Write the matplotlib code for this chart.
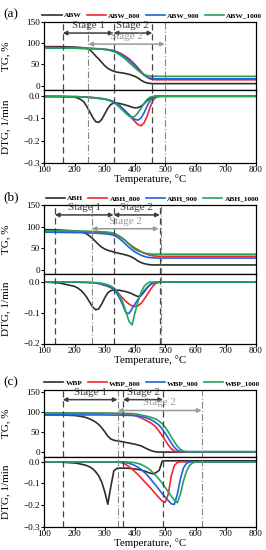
import matplotlib.pyplot as plt

plt.rcParams['font.family'] = ['Liberation Serif', 'DejaVu Serif']
plt.rcParams['axes.linewidth'] = 0.9

# temperature grid (°C) used for panels (a) and (b)
temp_ab = [100, 150, 200, 210, 220, 230, 240, 250, 260, 270,
           280, 290, 300, 310, 320, 330, 340, 350, 360, 370,
           380, 390, 400, 410, 420, 430, 440, 450, 460, 470,
           480, 490, 500, 550, 600, 700, 800]

# ---- panel (a) ----
abw_tg = [92, 92, 91, 90.5, 90, 89, 88, 85, 78, 70,
          63, 55, 47, 41, 37, 34, 32, 31, 30, 28.5,
          27, 24.5, 22, 18, 13, 9, 6.5, 5.5, 5, 5,
          5, 5, 5, 5, 5, 5, 5]
abw800_tg = [90, 89.5, 89, 88.8, 88.6, 88.4, 88.2, 88, 87.7, 87.4,
             87, 86.5, 86, 85, 84, 82.5, 80, 77, 73, 68.5,
             63.5, 57, 50, 42, 34, 26, 20, 16, 14.5, 14,
             14, 14, 14, 14, 14, 14, 14]
abw900_tg = [89, 88.7, 88.4, 88.2, 88, 87.8, 87.6, 87.4, 87.2, 87,
             86.6, 86.2, 85.6, 84.8, 83.6, 81.8, 79, 75.5, 71, 66,
             60, 53.5, 46.5, 39, 31, 25, 20.5, 18, 17, 16.5,
             16.5, 16.5, 16.5, 16.5, 16.5, 16.5, 16.5]
abw1000_tg = [89, 88.7, 88.4, 88.2, 88, 87.8, 87.6, 87.4, 87.2, 87,
              86.6, 86, 85.2, 84, 82.3, 80, 76.8, 72.5, 67.5, 61.5,
              55, 48.5, 42, 36, 30.5, 26.5, 24, 23, 22.5, 22.3,
              22.2, 22.2, 22.2, 22.2, 22.2, 22.2, 22.2]
abw_dtg = [-0.002, -0.002, -0.005, -0.009, -0.015, -0.025, -0.045, -0.07, -0.095, -0.115,
           -0.118, -0.105, -0.08, -0.055, -0.038, -0.031, -0.031, -0.034, -0.037, -0.041,
           -0.045, -0.05, -0.053, -0.052, -0.046, -0.035, -0.021, -0.009, -0.003, -0.001,
           -0.001, -0.001, -0.001, -0.001, -0.001, -0.001, -0.001]
abw800_dtg = [-0.002, -0.002, -0.003, -0.003, -0.004, -0.004, -0.005, -0.006, -0.007, -0.008,
              -0.01, -0.012, -0.014, -0.017, -0.021, -0.027, -0.035, -0.045, -0.057, -0.07,
              -0.085, -0.1, -0.115, -0.128, -0.133, -0.12, -0.09, -0.05, -0.018, -0.005,
              -0.002, -0.001, -0.001, -0.001, -0.001, -0.001, -0.001]
abw900_dtg = [-0.002, -0.002, -0.003, -0.003, -0.004, -0.004, -0.005, -0.006, -0.007, -0.008,
              -0.01, -0.011, -0.013, -0.016, -0.02, -0.026, -0.034, -0.044, -0.056, -0.07,
              -0.083, -0.095, -0.105, -0.108, -0.098, -0.075, -0.045, -0.02, -0.006, -0.002,
              -0.001, -0.001, -0.001, -0.001, -0.001, -0.001, -0.001]
abw1000_dtg = [-0.002, -0.002, -0.003, -0.003, -0.004, -0.005, -0.006, -0.007, -0.008, -0.009,
               -0.011, -0.012, -0.014, -0.018, -0.023, -0.03, -0.04, -0.052, -0.065, -0.078,
               -0.09, -0.095, -0.09, -0.075, -0.055, -0.033, -0.015, -0.005, -0.002, -0.001,
               -0.001, -0.001, -0.001, -0.001, -0.001, -0.001, -0.001]

# ---- panel (b) ----
abh_tg = [93, 92, 90, 89, 88, 86, 83, 78, 72, 65,
          58, 52, 48, 45, 43, 41, 39, 37.5, 36, 34,
          32, 29, 25, 20, 16.5, 14, 12.5, 11.5, 11, 11,
          11, 11, 11, 11, 11, 11, 11]
abh800_tg = [90, 89.5, 89, 88.9, 88.8, 88.6, 88.4, 88.2, 88, 87.7,
             87.3, 86.8, 86.2, 85.5, 84.5, 83, 80, 76, 71.5, 66,
             60, 55, 50, 46, 42, 38.5, 35.5, 33.5, 32, 31.5,
             31, 31, 31, 31, 31, 31, 31]
abh900_tg = [87, 86.5, 86, 85.9, 85.8, 85.6, 85.4, 85.2, 85, 84.7,
             84.3, 83.8, 83.2, 82.5, 81.5, 79.5, 76, 71, 65, 58.5,
             52, 46, 41, 37, 33.5, 31, 29, 28, 27.5, 27,
             27, 27, 27, 27, 27, 27, 27]
abh1000_tg = [90, 90, 89.5, 89.4, 89.3, 89.2, 89, 88.8, 88.6, 88.4,
              88.2, 87.9, 87.5, 87, 86, 84.5, 81.5, 77.5, 72.5, 66.5,
              59.5, 52.5, 47, 43.5, 41, 39, 37.5, 36.5, 36, 36,
              36, 36, 36, 36, 36, 36, 36]
abh_dtg = [-0.001, -0.004, -0.015, -0.02, -0.027, -0.037, -0.05, -0.066, -0.082, -0.091,
           -0.088, -0.072, -0.052, -0.036, -0.029, -0.027, -0.027, -0.028, -0.03, -0.032,
           -0.035, -0.039, -0.044, -0.048, -0.045, -0.033, -0.019, -0.009, -0.004, -0.002,
           -0.001, -0.001, -0.001, -0.001, -0.001, -0.001, -0.001]
abh800_dtg = [-0.001, -0.001, -0.001, -0.001, -0.002, -0.002, -0.002, -0.003, -0.003, -0.004,
              -0.006, -0.009, -0.012, -0.015, -0.019, -0.025, -0.033, -0.043, -0.054, -0.064,
              -0.072, -0.078, -0.08, -0.078, -0.07, -0.057, -0.042, -0.027, -0.013, -0.005,
              -0.002, -0.001, -0.001, -0.001, -0.001, -0.001, -0.001]
abh900_dtg = [-0.001, -0.001, -0.001, -0.001, -0.002, -0.002, -0.002, -0.003, -0.003, -0.004,
              -0.006, -0.008, -0.011, -0.014, -0.019, -0.026, -0.038, -0.055, -0.077, -0.1,
              -0.103, -0.088, -0.072, -0.057, -0.043, -0.03, -0.019, -0.01, -0.004, -0.001,
              -0.001, -0.001, -0.001, -0.001, -0.001, -0.001, -0.001]
abh1000_dtg = [-0.001, -0.001, -0.001, -0.001, -0.001, -0.002, -0.002, -0.002, -0.003, -0.003,
               -0.004, -0.005, -0.007, -0.01, -0.014, -0.02, -0.03, -0.045, -0.068, -0.098,
               -0.128, -0.14, -0.1, -0.063, -0.034, -0.015, -0.005, -0.001, -0.001, -0.001,
               -0.001, -0.001, -0.001, -0.001, -0.001, -0.001, -0.001]

# ---- panel (c) ----
temp_c = [100, 150, 200, 210, 220, 230, 240, 250, 260, 270,
          280, 290, 300, 310, 320, 330, 340, 350, 360, 370,
          380, 390, 400, 410, 420, 430, 440, 450, 460, 470,
          480, 490, 500, 510, 520, 530, 540, 550, 560, 570,
          580, 590, 600, 610, 620, 700, 800]
wbp_tg = [93, 93, 91.5, 90.5, 89.5, 88, 86, 83, 79.5, 75,
          69, 61, 51, 40, 33, 30, 28.5, 27.3, 26, 24.5,
          23, 21.5, 20, 18, 16, 12, 8.5, 5, 2.5, 1,
          0.5, 0.5, 0.5, 0.5, 0.5, 0.5, 0.5, 0.5, 0.5, 0.5,
          0.5, 0.5, 0.5, 0.5, 0.5, 0.5, 0.5]
wbp800_tg = [98, 97.8, 97.5, 97.5, 97.4, 97.4, 97.3, 97.3, 97.2, 97.2,
             97.1, 97, 97, 96.9, 96.8, 96.7, 96.5, 96.3, 96, 95.5,
             94.5, 93, 91, 88.5, 85.5, 82, 78, 74, 69, 62,
             52, 41, 30, 18, 9, 3, 1.5, 1, 1, 1,
             1, 1, 1, 1, 1, 1, 1]
wbp900_tg = [93, 93, 93, 93, 93, 93, 93, 93, 93, 93,
             93, 93, 92.9, 92.8, 92.7, 92.6, 92.5, 92.4, 92.2, 92,
             91.8, 91.6, 91.3, 90.5, 89, 87.5, 85, 82, 78, 73,
             67, 58, 47, 35, 23, 12, 5, 2, 1.5, 1.5,
             1.5, 1.5, 1.5, 1.5, 1.5, 1.5, 1.5]
wbp1000_tg = [98, 98, 97.8, 97.8, 97.7, 97.7, 97.6, 97.6, 97.5, 97.5,
              97.4, 97.4, 97.3, 97.2, 97.1, 97, 96.9, 96.8, 96.7, 96.6,
              96.4, 96.2, 95.8, 94.5, 92.5, 91, 89.5, 87.5, 85, 82,
              77.5, 71, 62, 51, 38, 26, 15, 7, 3, 1.5,
              1.5, 1.5, 1.5, 1.5, 1.5, 1.5, 1.5]
wbp_dtg = [-0.001, -0.002, -0.006, -0.008, -0.011, -0.014, -0.018, -0.024, -0.033, -0.047,
           -0.066, -0.095, -0.14, -0.197, -0.115, -0.042, -0.031, -0.03, -0.03, -0.03,
           -0.031, -0.032, -0.034, -0.036, -0.039, -0.043, -0.048, -0.053, -0.057, -0.05,
           -0.04, 0.003, 0.004, 0.004, 0.004, 0.004, 0.004, 0.004, 0.004, 0.004,
           0.004, 0.004, 0.004, 0.004, 0.004, 0.004, 0.004]
wbp800_dtg = [-0.001, -0.001, -0.001, -0.001, -0.001, -0.001, -0.001, -0.001, -0.001, -0.001,
              -0.001, -0.001, -0.001, -0.001, -0.001, -0.002, -0.002, -0.003, -0.007, -0.014,
              -0.023, -0.034, -0.047, -0.06, -0.075, -0.09, -0.105, -0.12, -0.136, -0.152,
              -0.168, -0.182, -0.188, -0.15, -0.065, -0.018, -0.004, -0.001, -0.001, -0.001,
              -0.001, -0.001, -0.001, -0.001, -0.001, -0.001, -0.001]
wbp900_dtg = [-0.001, -0.001, -0.001, -0.001, -0.001, -0.001, -0.001, -0.001, -0.001, -0.001,
              -0.001, -0.001, -0.001, -0.001, -0.001, -0.001, -0.001, -0.002, -0.003, -0.005,
              -0.008, -0.012, -0.018, -0.026, -0.036, -0.048, -0.062, -0.078, -0.095, -0.112,
              -0.13, -0.148, -0.165, -0.18, -0.195, -0.198, -0.15, -0.08, -0.03, -0.008,
              -0.002, -0.001, -0.001, -0.001, -0.001, -0.001, -0.001]
wbp1000_dtg = [-0.001, -0.001, -0.001, -0.001, -0.001, -0.001, -0.001, -0.001, -0.001, -0.001,
               -0.001, -0.001, -0.001, -0.001, -0.001, -0.001, -0.001, -0.001, -0.001, -0.001,
               -0.002, -0.003, -0.005, -0.008, -0.013, -0.02, -0.028, -0.038, -0.052, -0.066,
               -0.082, -0.1, -0.12, -0.14, -0.16, -0.178, -0.19, -0.15, -0.09, -0.045,
               -0.018, -0.006, -0.002, -0.001, -0.001, -0.001, -0.001]

# stage boundaries (°C)
dashed_a, dashdot_a = [161, 329, 457], [246, 498]
dashed_b, dashdot_b = [135, 329, 482], [257, 485]
dashed_c, dashdot_c = [161, 360, 493], [343, 620]
stages_a = [(161, 329, 'Stage 1'), (329, 457, 'Stage 2')]
stages_b = [(135, 329, 'Stage 1'), (329, 482, 'Stage 2')]
stages_c = [(161, 342, 'Stage 1'), (360, 493, 'Stage 2')]
light_a, light_b, light_c = (246, 498), (257, 478), (343, 620)

colors = ['#2e2e2e', '#f2262e', '#1f62dc', '#22a35e']
dark, light = '#3c3c3c', '#9a9a9a'

W, H = 266, 550
X0, X1 = 44.3, 256
fig = plt.figure(figsize=(W / 100, H / 100), dpi=100)


def add_ax(top, bottom):
    return fig.add_axes([X0 / W, 1 - bottom / H, (X1 - X0) / W, (bottom - top) / H])


def panel(letter, ypix, temp, names, tgs, dtgs, tg_lim, dtg_lim, dtg_ticks,
          dashed, dashdot, stages, light_stage, y_dark, y_light):
    top, mid, bot = ypix
    ax1 = add_ax(top, mid)
    ax2 = add_ax(mid, bot)
    for name, tg, dtg, c in zip(names, tgs, dtgs, colors):
        ax1.plot(temp, tg, color=c, lw=1.2, label=name)
        ax2.plot(temp, dtg, color=c, lw=1.2)
    for ax in (ax1, ax2):
        ax.set_xlim(100, 800)
        ax.set_xticks(range(100, 801, 100))
        ax.tick_params(labelsize=6.6, length=2, width=0.8, pad=1)
        ax.tick_params(axis='x', pad=0.5)
        for v in dashed:
            ax.axvline(v, color='#454545', lw=0.9, ls=(0, (5, 3)))
        for v in dashdot:
            ax.axvline(v, color='#858585', lw=0.8, ls=(0, (6, 2, 1, 2)))
    ax1.tick_params(labelbottom=False)
    ax1.set_ylim(*tg_lim)
    ax1.set_yticks([0, 50, 100, 150])
    ax2.set_ylim(*dtg_lim)
    ax2.set_yticks(dtg_ticks)
    ax1.set_ylabel('TG, %', fontsize=8)
    ax2.set_ylabel('DTG, 1/min', fontsize=8)
    ax1.yaxis.set_label_coords(-0.16, 0.5)
    ax2.yaxis.set_label_coords(-0.16, 0.5)
    ax2.set_xlabel('Temperature, °C', fontsize=7.8)
    ax2.xaxis.set_label_coords(0.5, -11.5 / (bot - mid))

    arrow = dict(arrowstyle='<|-|>', lw=1.1, mutation_scale=6, shrinkA=0, shrinkB=0)
    for a, b, txt in stages:
        ax1.annotate('', xy=(b, y_dark), xytext=(a, y_dark), arrowprops=dict(arrow, color=dark))
        ax1.annotate(txt, xy=((a + b) / 2, y_dark), xytext=(0, 5.5), textcoords='offset points',
                     ha='center', va='center', fontsize=8, color=dark)
    a, b = light_stage
    ax1.annotate('', xy=(b, y_light), xytext=(a, y_light), arrowprops=dict(arrow, color=light))
    ax1.annotate('Stage 2', xy=((a + b) / 2, y_light), xytext=(0, 5.5), textcoords='offset points',
                 ha='center', va='center', fontsize=8, color=light)

    ax1.legend(ncol=4, loc='center', bbox_to_anchor=(0.51, 1 + 7 / (mid - top)), frameon=False,
               prop={'weight': 'bold', 'size': 5.3}, handlelength=2.6, handletextpad=0.3,
               columnspacing=0.7, borderaxespad=0, borderpad=0)
    fig.text(11 / W, 1 - (top - 8) / H, letter, fontsize=9.5, ha='center', va='center')


panel('(a)', (22, 90, 163), temp_ab, ['ABW', 'ABW_800', 'ABW_900', 'ABW_1000'],
      [abw_tg, abw800_tg, abw900_tg, abw1000_tg], [abw_dtg, abw800_dtg, abw900_dtg, abw1000_dtg],
      (-10, 150), (-0.3, 0.027), [0, -0.1, -0.2, -0.3],
      dashed_a, dashdot_a, stages_a, light_a, 124, 98)
panel('(b)', (205, 274, 343.5), temp_ab, ['ABH', 'ABH_800', 'ABH_900', 'ABH_1000'],
      [abh_tg, abh800_tg, abh900_tg, abh1000_tg], [abh_dtg, abh800_dtg, abh900_dtg, abh1000_dtg],
      (-10, 150), (-0.2, 0.025), [0, -0.1, -0.2],
      dashed_b, dashdot_b, stages_b, light_b, 127, 95)
panel('(c)', (390, 456.7, 526.5), temp_c, ['WBP', 'WBP_800', 'WBP_900', 'WBP_1000'],
      [wbp_tg, wbp800_tg, wbp900_tg, wbp1000_tg], [wbp_dtg, wbp800_dtg, wbp900_dtg, wbp1000_dtg],
      (-11, 155), (-0.3, 0.023), [0, -0.1, -0.2, -0.3],
      dashed_c, dashdot_c, stages_c, light_c, 131, 104)

fig.savefig('out.png', dpi=100)
